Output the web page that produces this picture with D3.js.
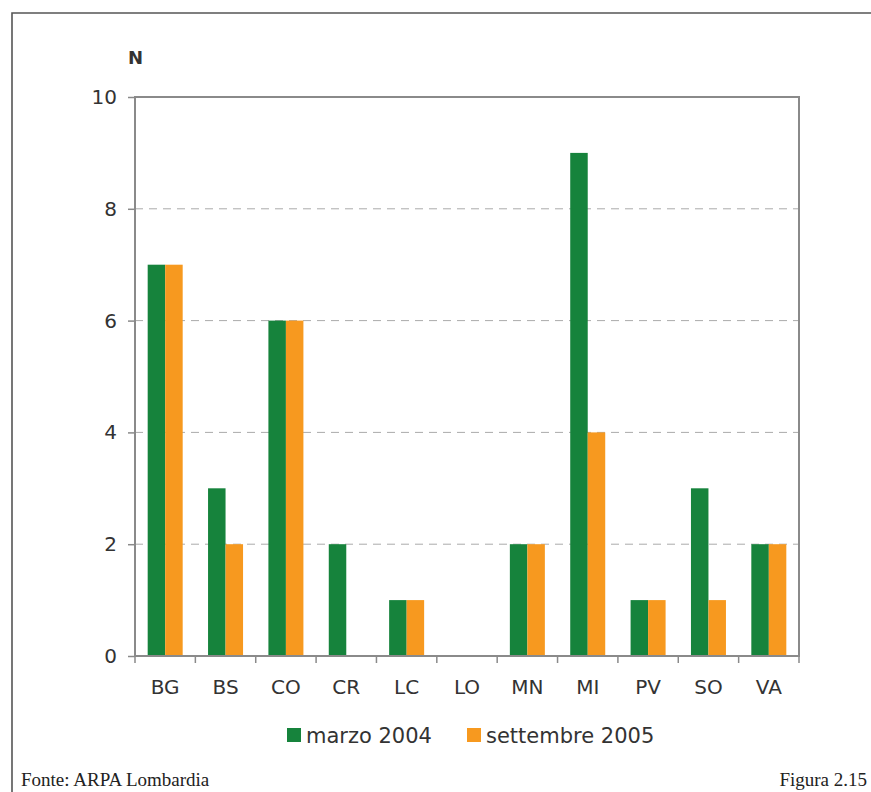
<!DOCTYPE html>
<html>
<head>
<meta charset="utf-8">
<script src="https://cdn.jsdelivr.net/npm/d3@7"></script>
<style>
  html, body { margin: 0; padding: 0; background: #fff; }
  svg { display: block; }
</style>
</head>
<body>
<svg id="chart" width="871" height="792"></svg>
<script>
// Province di Lombardia e numero di stazioni per campagna
const categories = ["BG", "BS", "CO", "CR", "LC", "LO", "MN", "MI", "PV", "SO", "VA"];
const seriesNames = ["marzo 2004", "settembre 2005"];
const marzo2004 = [7, 3, 6, 2, 1, 0, 2, 9, 1, 3, 2];
const settembre2005 = [7, 2, 6, 0, 1, 0, 2, 4, 1, 1, 2];
const yTicks = [0, 2, 4, 6, 8, 10];
const colors = ["#16833c", "#f7991f"];

const svg = d3.select("#chart");
const W = 871, H = 792;
const plot = { left: 135, right: 799, top: 97, bottom: 656 };
const sans = "DejaVu Sans, Verdana, sans-serif";
const serif = "Liberation Serif, Times New Roman, serif";

// Cornice esterna
svg.append("path")
  .attr("d", `M12,${H} L12,13 L${W},13`)
  .attr("fill", "none")
  .attr("stroke", "#555")
  .attr("stroke-width", 1.6);

const x = d3.scaleBand().domain(categories).range([plot.left, plot.right]).paddingInner(0).paddingOuter(0);
const groupWidth = 35;
const xs = d3.scaleBand().domain(seriesNames).range([0, groupWidth]);
const y = d3.scaleLinear().domain([0, 10]).range([plot.bottom, plot.top]);

// Griglia tratteggiata
svg.append("g")
  .selectAll("line")
  .data(yTicks.filter(t => t > 0 && t < 10))
  .join("line")
  .attr("x1", plot.left).attr("x2", plot.right)
  .attr("y1", d => y(d)).attr("y2", d => y(d))
  .attr("stroke", "#aaa")
  .attr("stroke-width", 1)
  .attr("stroke-dasharray", "8,6");

// Barre
const series = [marzo2004, settembre2005];
const groups = svg.append("g")
  .selectAll("g")
  .data(categories)
  .join("g")
  .attr("transform", d => `translate(${x(d) + (x.bandwidth() - groupWidth) / 2},0)`);

groups.selectAll("rect")
  .data((d, i) => seriesNames.map((s, k) => ({ s, k, v: series[k][i] })))
  .join("rect")
  .attr("x", d => xs(d.s))
  .attr("width", xs.bandwidth())
  .attr("y", d => y(d.v))
  .attr("height", d => y(0) - y(d.v))
  .attr("fill", d => colors[d.k]);

// Cornice dell'area del grafico
svg.append("rect")
  .attr("x", plot.left).attr("y", plot.top)
  .attr("width", plot.right - plot.left)
  .attr("height", plot.bottom - plot.top)
  .attr("fill", "none")
  .attr("stroke", "#8a8a8a")
  .attr("stroke-width", 2);

// Asse Y
const yAxis = svg.append("g")
  .attr("transform", `translate(${plot.left},0)`)
  .call(d3.axisLeft(y).tickValues(yTicks).tickSize(7).tickPadding(11).tickFormat(d3.format("d")));
yAxis.select(".domain").remove();
yAxis.selectAll(".tick line").attr("stroke", "#8a8a8a").attr("stroke-width", 1.5);
yAxis.selectAll(".tick text")
  .attr("font-family", sans)
  .attr("font-size", 20)
  .attr("fill", "#333");

// Asse X
const xAxis = svg.append("g")
  .attr("transform", `translate(0,${plot.bottom})`)
  .call(d3.axisBottom(x).tickSize(0).tickPadding(24));
xAxis.select(".domain").remove();
xAxis.selectAll(".tick text")
  .attr("font-family", sans)
  .attr("font-size", 20)
  .attr("fill", "#333");

// Tacche tra le categorie
svg.append("g")
  .selectAll("line")
  .data(categories.map(c => x(c)).concat([plot.right]))
  .join("line")
  .attr("x1", d => d).attr("x2", d => d)
  .attr("y1", plot.bottom).attr("y2", plot.bottom + 7)
  .attr("stroke", "#8a8a8a")
  .attr("stroke-width", 1.5);

// Etichetta unità
svg.append("text")
  .attr("x", 128).attr("y", 64)
  .attr("font-family", sans)
  .attr("font-size", 18)
  .attr("font-weight", "bold")
  .attr("fill", "#333")
  .text("N");

// Legenda
const legend = svg.append("g");
const legendItems = [
  { name: seriesNames[0], color: colors[0], x: 287, tx: 306 },
  { name: seriesNames[1], color: colors[1], x: 467, tx: 486 }
];
legendItems.forEach(it => {
  legend.append("rect")
    .attr("x", it.x).attr("y", 728)
    .attr("width", 14).attr("height", 14)
    .attr("fill", it.color);
  legend.append("text")
    .attr("x", it.tx).attr("y", 743)
    .attr("font-family", sans)
    .attr("font-size", 21)
    .attr("fill", "#333")
    .text(it.name);
});

// Note a piè di pagina
svg.append("text")
  .attr("x", 21).attr("y", 786)
  .attr("font-family", serif)
  .attr("font-size", 19)
  .attr("fill", "#222")
  .text("Fonte: ARPA Lombardia");
svg.append("text")
  .attr("x", 867).attr("y", 786)
  .attr("text-anchor", "end")
  .attr("font-family", serif)
  .attr("font-size", 19)
  .attr("fill", "#222")
  .text("Figura 2.15");
</script>
</body>
</html>
